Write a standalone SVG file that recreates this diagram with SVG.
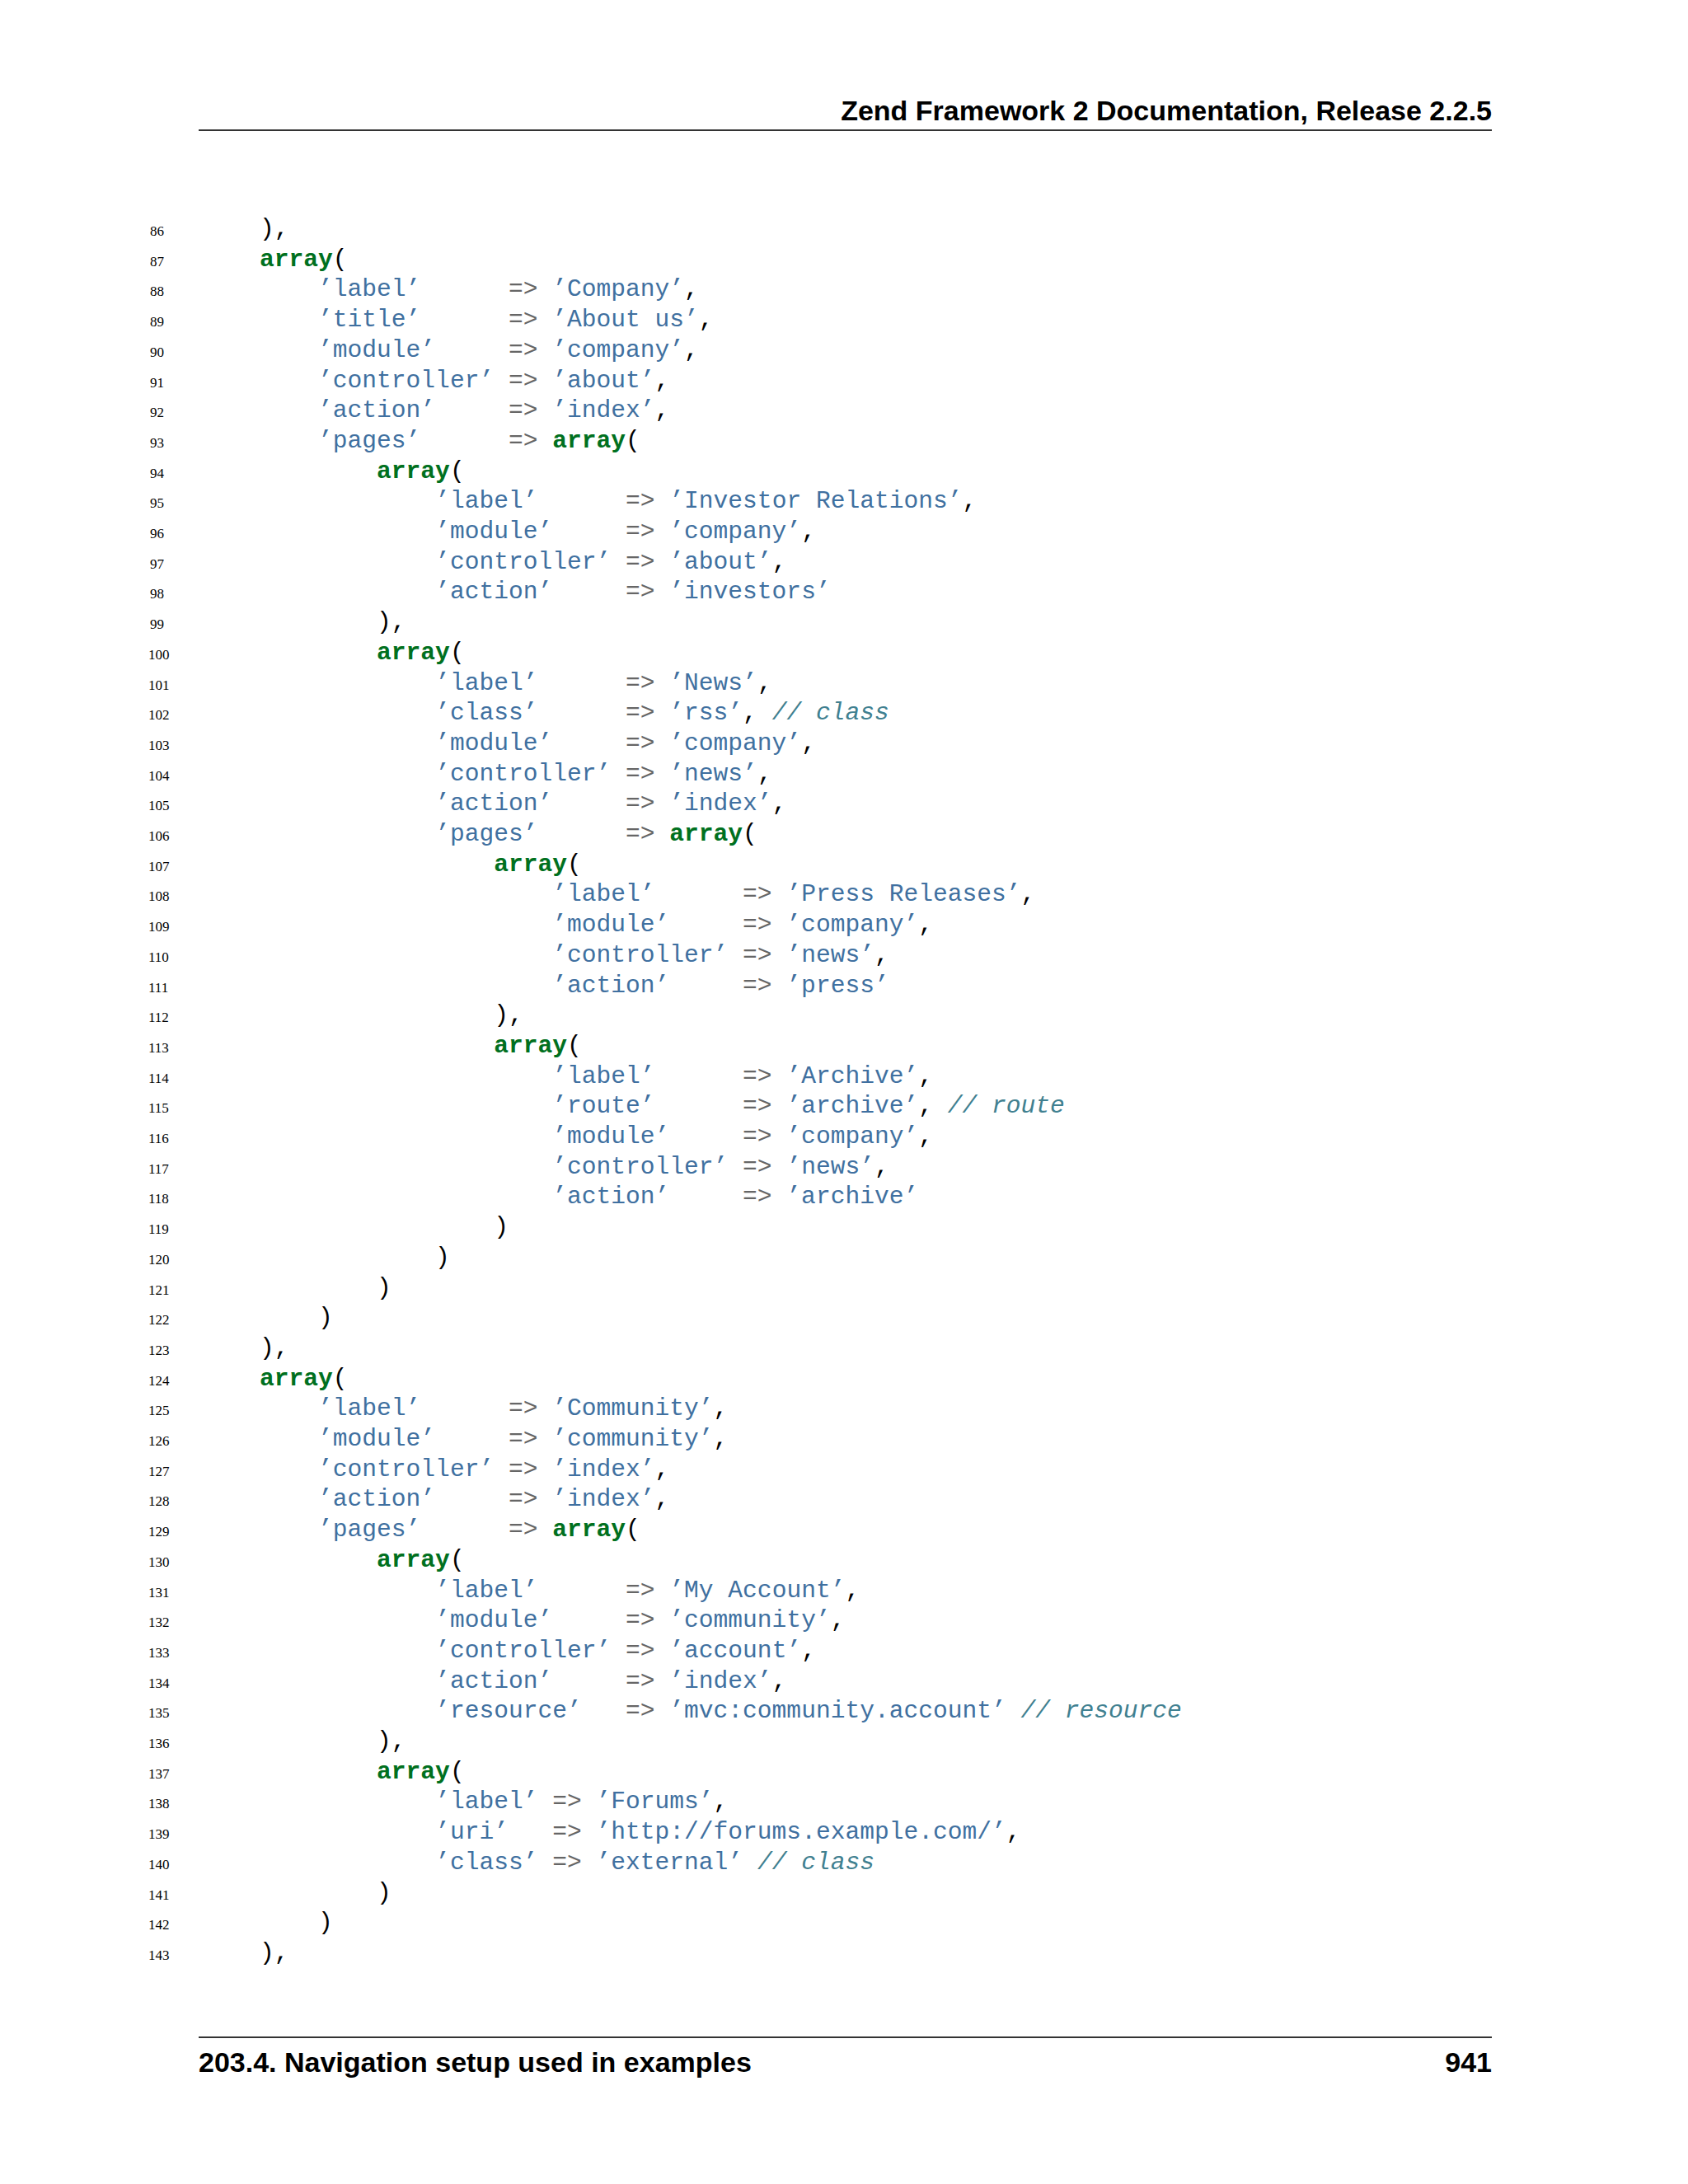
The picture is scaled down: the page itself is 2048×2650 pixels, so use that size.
<svg xmlns="http://www.w3.org/2000/svg" width="2048" height="2650" viewBox="0 0 2048 2650" xml:space="preserve">
<style>
.c0{font-family:"Liberation Mono",monospace;font-size:29.6px;white-space:pre;fill:#000}
.s{fill:#4070a0}.k{fill:#007020;font-weight:bold}.o{fill:#666666}.c{fill:#408090;font-style:italic}
.n{font-family:"Liberation Serif",serif;font-size:17px;fill:#000}
.h{font-family:"Liberation Sans",Arial,sans-serif;font-size:34px;font-weight:bold;fill:#000}
</style>
<rect width="2048" height="2650" fill="#fff"/>
<g id="header"><text class="h" x="1810" y="146" text-anchor="end">Zend Framework 2 Documentation, Release 2.2.5</text><line x1="241" y1="158" x2="1810" y2="158" stroke="#333" stroke-width="2"/></g>
<g id="footer"><line x1="241" y1="2472" x2="1810" y2="2472" stroke="#333" stroke-width="2"/><text class="h" x="241" y="2514">203.4.  Navigation setup used in examples</text><text class="h" x="1810" y="2514" text-anchor="end">941</text></g>
<g id="linenos" class="n"><text x="182" y="286">86</text><text x="182" y="322.7">87</text><text x="182" y="359.4">88</text><text x="182" y="396.1">89</text><text x="182" y="432.8">90</text><text x="182" y="469.5">91</text><text x="182" y="506.2">92</text><text x="182" y="542.9">93</text><text x="182" y="579.6">94</text><text x="182" y="616.3">95</text><text x="182" y="653">96</text><text x="182" y="689.7">97</text><text x="182" y="726.4">98</text><text x="182" y="763.1">99</text><text x="180" y="799.8">100</text><text x="180" y="836.5">101</text><text x="180" y="873.2">102</text><text x="180" y="909.9">103</text><text x="180" y="946.6">104</text><text x="180" y="983.3">105</text><text x="180" y="1020">106</text><text x="180" y="1056.7">107</text><text x="180" y="1093.4">108</text><text x="180" y="1130.1">109</text><text x="180" y="1166.8">110</text><text x="180" y="1203.5">111</text><text x="180" y="1240.2">112</text><text x="180" y="1276.9">113</text><text x="180" y="1313.6">114</text><text x="180" y="1350.3">115</text><text x="180" y="1387">116</text><text x="180" y="1423.7">117</text><text x="180" y="1460.4">118</text><text x="180" y="1497.1">119</text><text x="180" y="1533.8">120</text><text x="180" y="1570.5">121</text><text x="180" y="1607.2">122</text><text x="180" y="1643.9">123</text><text x="180" y="1680.6">124</text><text x="180" y="1717.3">125</text><text x="180" y="1754">126</text><text x="180" y="1790.7">127</text><text x="180" y="1827.4">128</text><text x="180" y="1864.1">129</text><text x="180" y="1900.8">130</text><text x="180" y="1937.5">131</text><text x="180" y="1974.2">132</text><text x="180" y="2010.9">133</text><text x="180" y="2047.6">134</text><text x="180" y="2084.3">135</text><text x="180" y="2121">136</text><text x="180" y="2157.7">137</text><text x="180" y="2194.4">138</text><text x="180" y="2231.1">139</text><text x="180" y="2267.8">140</text><text x="180" y="2304.5">141</text><text x="180" y="2341.2">142</text><text x="180" y="2377.9">143</text></g>
<g id="code" class="c0">
<text xml:space="preserve" x="315" y="286">),</text>
<text xml:space="preserve" x="315" y="322.7"><tspan class="k">array</tspan>(</text>
<text xml:space="preserve" x="315" y="359.4">    <tspan class="s">’label’</tspan>      <tspan class="o">=&gt;</tspan> <tspan class="s">’Company’</tspan>,</text>
<text xml:space="preserve" x="315" y="396.1">    <tspan class="s">’title’</tspan>      <tspan class="o">=&gt;</tspan> <tspan class="s">’About us’</tspan>,</text>
<text xml:space="preserve" x="315" y="432.8">    <tspan class="s">’module’</tspan>     <tspan class="o">=&gt;</tspan> <tspan class="s">’company’</tspan>,</text>
<text xml:space="preserve" x="315" y="469.5">    <tspan class="s">’controller’</tspan> <tspan class="o">=&gt;</tspan> <tspan class="s">’about’</tspan>,</text>
<text xml:space="preserve" x="315" y="506.2">    <tspan class="s">’action’</tspan>     <tspan class="o">=&gt;</tspan> <tspan class="s">’index’</tspan>,</text>
<text xml:space="preserve" x="315" y="542.9">    <tspan class="s">’pages’</tspan>      <tspan class="o">=&gt;</tspan> <tspan class="k">array</tspan>(</text>
<text xml:space="preserve" x="315" y="579.6">        <tspan class="k">array</tspan>(</text>
<text xml:space="preserve" x="315" y="616.3">            <tspan class="s">’label’</tspan>      <tspan class="o">=&gt;</tspan> <tspan class="s">’Investor Relations’</tspan>,</text>
<text xml:space="preserve" x="315" y="653">            <tspan class="s">’module’</tspan>     <tspan class="o">=&gt;</tspan> <tspan class="s">’company’</tspan>,</text>
<text xml:space="preserve" x="315" y="689.7">            <tspan class="s">’controller’</tspan> <tspan class="o">=&gt;</tspan> <tspan class="s">’about’</tspan>,</text>
<text xml:space="preserve" x="315" y="726.4">            <tspan class="s">’action’</tspan>     <tspan class="o">=&gt;</tspan> <tspan class="s">’investors’</tspan></text>
<text xml:space="preserve" x="315" y="763.1">        ),</text>
<text xml:space="preserve" x="315" y="799.8">        <tspan class="k">array</tspan>(</text>
<text xml:space="preserve" x="315" y="836.5">            <tspan class="s">’label’</tspan>      <tspan class="o">=&gt;</tspan> <tspan class="s">’News’</tspan>,</text>
<text xml:space="preserve" x="315" y="873.2">            <tspan class="s">’class’</tspan>      <tspan class="o">=&gt;</tspan> <tspan class="s">’rss’</tspan>, <tspan class="c">// class</tspan></text>
<text xml:space="preserve" x="315" y="909.9">            <tspan class="s">’module’</tspan>     <tspan class="o">=&gt;</tspan> <tspan class="s">’company’</tspan>,</text>
<text xml:space="preserve" x="315" y="946.6">            <tspan class="s">’controller’</tspan> <tspan class="o">=&gt;</tspan> <tspan class="s">’news’</tspan>,</text>
<text xml:space="preserve" x="315" y="983.3">            <tspan class="s">’action’</tspan>     <tspan class="o">=&gt;</tspan> <tspan class="s">’index’</tspan>,</text>
<text xml:space="preserve" x="315" y="1020">            <tspan class="s">’pages’</tspan>      <tspan class="o">=&gt;</tspan> <tspan class="k">array</tspan>(</text>
<text xml:space="preserve" x="315" y="1056.7">                <tspan class="k">array</tspan>(</text>
<text xml:space="preserve" x="315" y="1093.4">                    <tspan class="s">’label’</tspan>      <tspan class="o">=&gt;</tspan> <tspan class="s">’Press Releases’</tspan>,</text>
<text xml:space="preserve" x="315" y="1130.1">                    <tspan class="s">’module’</tspan>     <tspan class="o">=&gt;</tspan> <tspan class="s">’company’</tspan>,</text>
<text xml:space="preserve" x="315" y="1166.8">                    <tspan class="s">’controller’</tspan> <tspan class="o">=&gt;</tspan> <tspan class="s">’news’</tspan>,</text>
<text xml:space="preserve" x="315" y="1203.5">                    <tspan class="s">’action’</tspan>     <tspan class="o">=&gt;</tspan> <tspan class="s">’press’</tspan></text>
<text xml:space="preserve" x="315" y="1240.2">                ),</text>
<text xml:space="preserve" x="315" y="1276.9">                <tspan class="k">array</tspan>(</text>
<text xml:space="preserve" x="315" y="1313.6">                    <tspan class="s">’label’</tspan>      <tspan class="o">=&gt;</tspan> <tspan class="s">’Archive’</tspan>,</text>
<text xml:space="preserve" x="315" y="1350.3">                    <tspan class="s">’route’</tspan>      <tspan class="o">=&gt;</tspan> <tspan class="s">’archive’</tspan>, <tspan class="c">// route</tspan></text>
<text xml:space="preserve" x="315" y="1387">                    <tspan class="s">’module’</tspan>     <tspan class="o">=&gt;</tspan> <tspan class="s">’company’</tspan>,</text>
<text xml:space="preserve" x="315" y="1423.7">                    <tspan class="s">’controller’</tspan> <tspan class="o">=&gt;</tspan> <tspan class="s">’news’</tspan>,</text>
<text xml:space="preserve" x="315" y="1460.4">                    <tspan class="s">’action’</tspan>     <tspan class="o">=&gt;</tspan> <tspan class="s">’archive’</tspan></text>
<text xml:space="preserve" x="315" y="1497.1">                )</text>
<text xml:space="preserve" x="315" y="1533.8">            )</text>
<text xml:space="preserve" x="315" y="1570.5">        )</text>
<text xml:space="preserve" x="315" y="1607.2">    )</text>
<text xml:space="preserve" x="315" y="1643.9">),</text>
<text xml:space="preserve" x="315" y="1680.6"><tspan class="k">array</tspan>(</text>
<text xml:space="preserve" x="315" y="1717.3">    <tspan class="s">’label’</tspan>      <tspan class="o">=&gt;</tspan> <tspan class="s">’Community’</tspan>,</text>
<text xml:space="preserve" x="315" y="1754">    <tspan class="s">’module’</tspan>     <tspan class="o">=&gt;</tspan> <tspan class="s">’community’</tspan>,</text>
<text xml:space="preserve" x="315" y="1790.7">    <tspan class="s">’controller’</tspan> <tspan class="o">=&gt;</tspan> <tspan class="s">’index’</tspan>,</text>
<text xml:space="preserve" x="315" y="1827.4">    <tspan class="s">’action’</tspan>     <tspan class="o">=&gt;</tspan> <tspan class="s">’index’</tspan>,</text>
<text xml:space="preserve" x="315" y="1864.1">    <tspan class="s">’pages’</tspan>      <tspan class="o">=&gt;</tspan> <tspan class="k">array</tspan>(</text>
<text xml:space="preserve" x="315" y="1900.8">        <tspan class="k">array</tspan>(</text>
<text xml:space="preserve" x="315" y="1937.5">            <tspan class="s">’label’</tspan>      <tspan class="o">=&gt;</tspan> <tspan class="s">’My Account’</tspan>,</text>
<text xml:space="preserve" x="315" y="1974.2">            <tspan class="s">’module’</tspan>     <tspan class="o">=&gt;</tspan> <tspan class="s">’community’</tspan>,</text>
<text xml:space="preserve" x="315" y="2010.9">            <tspan class="s">’controller’</tspan> <tspan class="o">=&gt;</tspan> <tspan class="s">’account’</tspan>,</text>
<text xml:space="preserve" x="315" y="2047.6">            <tspan class="s">’action’</tspan>     <tspan class="o">=&gt;</tspan> <tspan class="s">’index’</tspan>,</text>
<text xml:space="preserve" x="315" y="2084.3">            <tspan class="s">’resource’</tspan>   <tspan class="o">=&gt;</tspan> <tspan class="s">’mvc:community.account’</tspan> <tspan class="c">// resource</tspan></text>
<text xml:space="preserve" x="315" y="2121">        ),</text>
<text xml:space="preserve" x="315" y="2157.7">        <tspan class="k">array</tspan>(</text>
<text xml:space="preserve" x="315" y="2194.4">            <tspan class="s">’label’</tspan> <tspan class="o">=&gt;</tspan> <tspan class="s">’Forums’</tspan>,</text>
<text xml:space="preserve" x="315" y="2231.1">            <tspan class="s">’uri’</tspan>   <tspan class="o">=&gt;</tspan> <tspan class="s">’http://forums.example.com/’</tspan>,</text>
<text xml:space="preserve" x="315" y="2267.8">            <tspan class="s">’class’</tspan> <tspan class="o">=&gt;</tspan> <tspan class="s">’external’</tspan> <tspan class="c">// class</tspan></text>
<text xml:space="preserve" x="315" y="2304.5">        )</text>
<text xml:space="preserve" x="315" y="2341.2">    )</text>
<text xml:space="preserve" x="315" y="2377.9">),</text>
</g>
</svg>
